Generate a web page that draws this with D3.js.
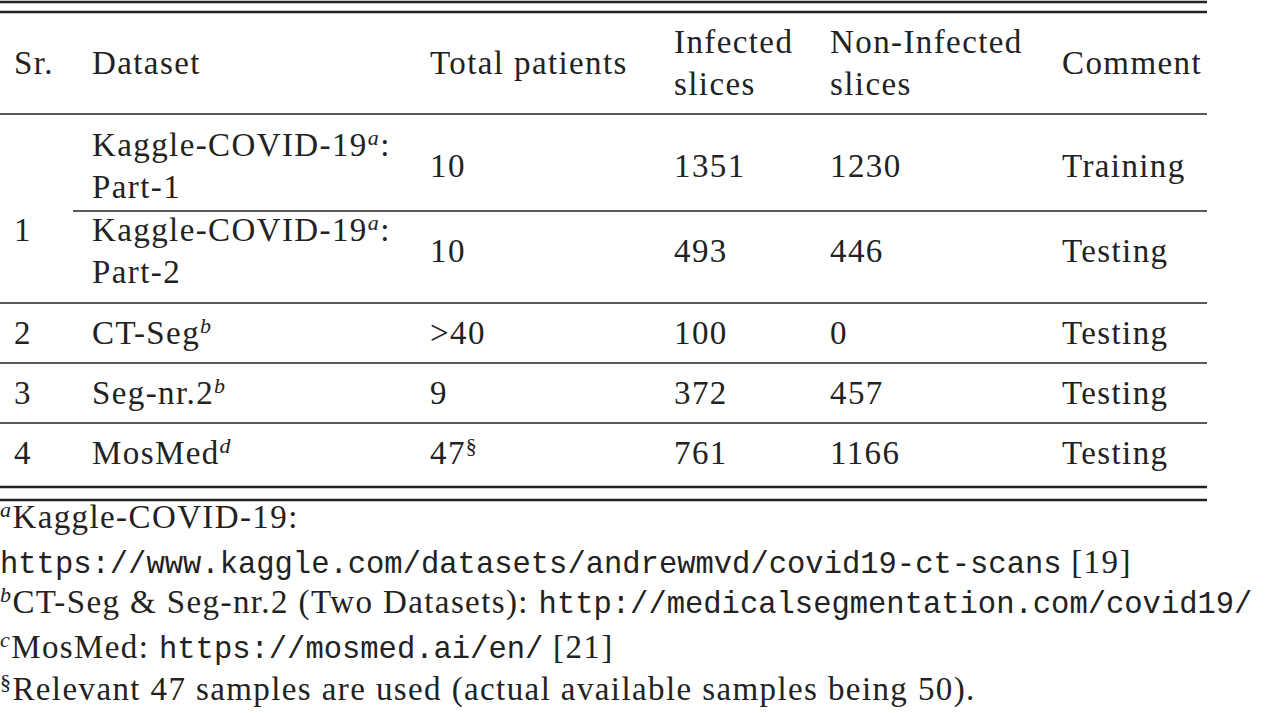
<!DOCTYPE html>
<html><head><meta charset="utf-8">
<script src="https://cdn.jsdelivr.net/npm/d3@7"></script>
<style>body{margin:0;background:#fff}</style>
</head><body>
<script>
// table content
var headers = [["Sr."], ["Dataset"], ["Total patients"], ["Infected", "slices"], ["Non-Infected", "slices"], ["Comment"]];
var colX = [14, 92, 430, 674, 830, 1062];
var rows = [
  {sr: "", ds: ["Kaggle-COVID-19", "a", ":", "Part-1"], total: "10", sup: "", inf: "1351", non: "1230", comment: "Training"},
  {sr: "", ds: ["Kaggle-COVID-19", "a", ":", "Part-2"], total: "10", sup: "", inf: "493", non: "446", comment: "Testing"},
  {sr: "2", ds: ["CT-Seg", "b", "", ""], total: ">40", sup: "", inf: "100", non: "0", comment: "Testing"},
  {sr: "3", ds: ["Seg-nr.2", "b", "", ""], total: "9", sup: "", inf: "372", non: "457", comment: "Testing"},
  {sr: "4", ds: ["MosMed", "d", "", ""], total: "47", sup: "§", inf: "761", non: "1166", comment: "Testing"}
];
var rowY = [166, 251, 333, 393, 453];
var rules = [{y: 114, x0: 0}, {y: 211, x0: 73}, {y: 303, x0: 0}, {y: 363, x0: 0}, {y: 423, x0: 0}];
var notes = [
  [{t: "a", sup: 1}, {t: "Kaggle-COVID-19:"}],
  [{t: "https://www.kaggle.com/datasets/andrewmvd/covid19-ct-scans", mono: 1}, {t: " [19]"}],
  [{t: "b", sup: 1}, {t: "CT-Seg & Seg-nr.2 (Two Datasets): "}, {t: "http://medicalsegmentation.com/covid19/", mono: 1}],
  [{t: "c", sup: 1}, {t: "MosMed: "}, {t: "https://mosmed.ai/en/", mono: 1}, {t: " [21]"}],
  [{t: "§", sup: 1}, {t: "Relevant 47 samples are used (actual available samples being 50)."}]
];
var noteY = [528, 573, 613, 658, 700];

var W = 1280, H = 713, right = 1207;
var serif = "'Liberation Serif', serif", mono = "'Liberation Mono', monospace";
var svg = d3.select("body").append("svg").attr("width", W).attr("height", H)
  .style("font-family", serif).style("font-size", "33px").style("letter-spacing", "1.4px").attr("fill", "#222");

function hline(y, x0, w) {
  svg.append("line").attr("x1", x0).attr("x2", right).attr("y1", y).attr("y2", y)
    .attr("stroke", "#222").attr("stroke-width", w);
}
hline(2, 0, 2.5); hline(12, 0, 2.5);
rules.forEach(function(r){ hline(r.y, r.x0, 1.5); });
hline(487, 0, 2.5); hline(500, 0, 2.5);

headers.forEach(function(h, i) {
  h.forEach(function(t, j) {
    var y = h.length == 1 ? 74 : 53 + j * 42;
    svg.append("text").attr("x", colX[i]).attr("y", y).text(t);
  });
});

svg.append("text").attr("x", colX[0]).attr("y", 241).text("1");

rows.forEach(function(r, i) {
  var y = rowY[i] + 11;
  if (r.sr) svg.append("text").attr("x", colX[0]).attr("y", y).text(r.sr);
  var two = r.ds[3] != "";
  var t = svg.append("text").attr("x", colX[1]).attr("y", two ? y - 21 : y);
  t.append("tspan").text(r.ds[0]);
  t.append("tspan").attr("dy", -11).style("font-size", "22px").style("font-style", "italic").text(r.ds[1]);
  if (r.ds[2]) t.append("tspan").attr("dy", 11).text(r.ds[2]);
  if (two) svg.append("text").attr("x", colX[1]).attr("y", y + 21).text(r.ds[3]);
  var tt = svg.append("text").attr("x", colX[2]).attr("y", y).text(r.total);
  if (r.sup) tt.append("tspan").attr("dy", -11).style("font-size", "22px").text(r.sup);
  [r.inf, r.non, r.comment].forEach(function(v, k) {
    svg.append("text").attr("x", colX[3 + k]).attr("y", y).text(v);
  });
});

notes.forEach(function(parts, i) {
  var t = svg.append("text").attr("x", 0).attr("y", noteY[i]);
  var raised = false;
  parts.forEach(function(p) {
    var s = t.append("tspan").text(p.t);
    if (p.sup) { s.attr("dy", -11).style("font-size", "22px").style("font-style", p.t == "§" ? "normal" : "italic"); raised = true; }
    else if (raised) { s.attr("dy", 11); raised = false; }
    if (p.mono) s.style("font-family", mono).style("font-size", "30.5px").style("letter-spacing", "0px");
  });
});
</script>
</body></html>
